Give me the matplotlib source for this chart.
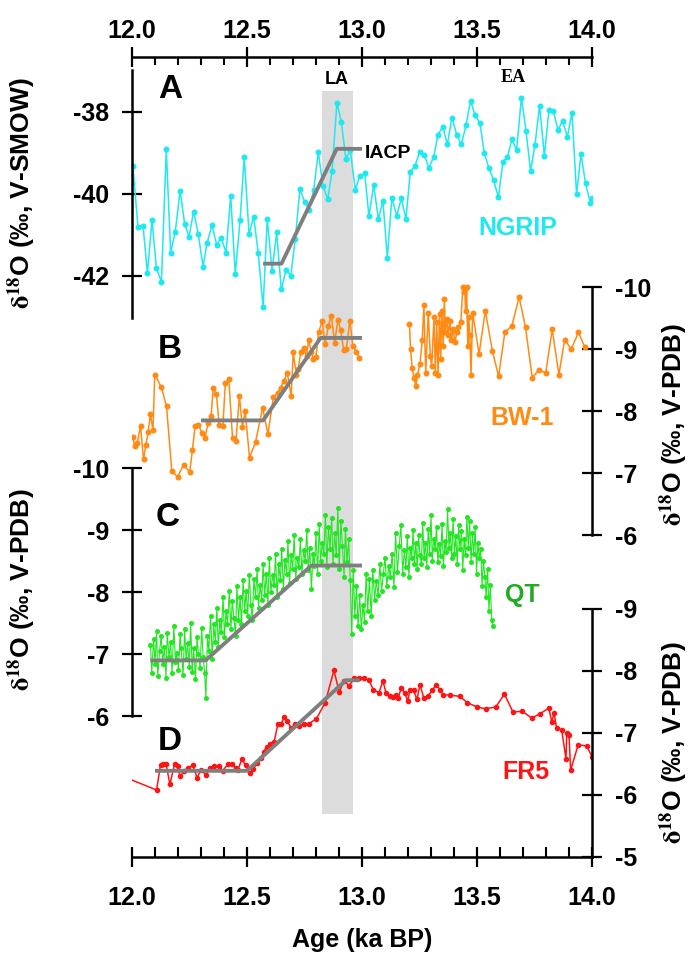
import numpy as np
import matplotlib
matplotlib.use('Agg')
import matplotlib.pyplot as plt
from matplotlib.ticker import MultipleLocator

plt.rcParams['font.family'] = ['Liberation Sans', 'DejaVu Sans']
plt.rcParams['font.weight'] = 'bold'
plt.rcParams['mathtext.fontset'] = 'stix'
plt.rcParams['axes.unicode_minus'] = False

# ---- data ----
# A: NGRIP ice core
ngrip_age = [12.000, 12.004, 12.026, 12.048, 12.067, 12.087, 12.106, 12.128, 12.149, 12.168,
             12.188, 12.209, 12.229, 12.248, 12.268, 12.288, 12.309, 12.326, 12.348, 12.368,
             12.388, 12.409, 12.429, 12.449, 12.470, 12.488, 12.509, 12.529, 12.549, 12.570,
             12.588, 12.609, 12.629, 12.649, 12.670, 12.690, 12.710, 12.730, 12.751, 12.770,
             12.790, 12.810, 12.830, 12.851, 12.870, 12.891, 12.910, 12.930, 12.949, 12.971,
             12.990, 13.012, 13.030, 13.051, 13.071, 13.091, 13.110, 13.130, 13.151, 13.171,
             13.191, 13.210, 13.230, 13.251, 13.271, 13.291, 13.312, 13.330, 13.351, 13.371,
             13.391, 13.412, 13.432, 13.452, 13.472, 13.491, 13.513, 13.532, 13.552, 13.572,
             13.593, 13.613, 13.632, 13.652, 13.672, 13.693, 13.713, 13.733, 13.752, 13.772,
             13.793, 13.813, 13.832, 13.852, 13.872, 13.893, 13.913, 13.933, 13.952, 13.972,
             13.993, 14.000]
ngrip_d18o = [-39.74, -39.33, -40.80, -40.77, -41.93, -40.63, -41.81, -42.14, -38.91, -41.43,
              -40.93, -39.92, -40.73, -41.04, -40.43, -40.98, -41.77, -41.20, -40.76, -41.24,
              -41.07, -41.43, -40.04, -41.95, -40.63, -39.10, -40.98, -40.55, -41.45, -42.76,
              -40.61, -41.87, -40.94, -42.33, -41.85, -41.99, -41.10, -39.88, -40.19, -40.39,
              -39.90, -38.98, -39.80, -40.13, -39.44, -37.77, -38.24, -39.14, -38.94, -39.90,
              -39.56, -39.50, -40.54, -39.78, -40.61, -40.17, -41.55, -40.09, -40.53, -40.11,
              -40.61, -39.46, -39.32, -38.97, -39.05, -39.37, -39.09, -38.56, -38.36, -38.79,
              -38.14, -38.56, -38.79, -38.33, -37.73, -38.07, -38.28, -39.01, -39.37, -39.66,
              -40.08, -39.21, -39.10, -38.67, -38.94, -37.65, -38.46, -39.44, -38.80, -37.85,
              -39.07, -37.95, -37.98, -38.44, -38.22, -38.60, -38.02, -40.01, -39.03, -39.74,
              -40.23, -40.09]
iacp_age_a = [12.57, 12.65, 12.89, 13.00]
iacp_d18o_a = [-41.7, -41.7, -38.9, -38.9]

# B: BW-1 speleothem
bw1_age = [12.003, 12.011, 12.023, 12.037, 12.050, 12.060, 12.070, 12.080, 12.091, 12.099,
           12.127, 12.150, 12.173, 12.198, 12.224, 12.251, 12.263, 12.274, 12.289, 12.305,
           12.317, 12.331, 12.344, 12.353, 12.367, 12.379, 12.395, 12.406, 12.421, 12.437,
           12.452, 12.467, 12.480, 12.492, 12.511, 12.537, 12.568, 12.591, 12.615, 12.633,
           12.646, 12.661, 12.675, 12.692, 12.701, 12.714, 12.723, 12.734, 12.746, 12.759,
           12.768, 12.780, 12.789, 12.800, 12.811, 12.827, 12.839, 12.854, 12.867, 12.881,
           12.895, 12.907, 12.920, 12.932, 12.947, 12.960, 12.975, 12.989,
           13.206, 13.211, 13.218, 13.226, 13.234, 13.241, 13.252, 13.262, 13.269, 13.277,
           13.288, 13.297, 13.303, 13.313, 13.319, 13.325, 13.331, 13.337, 13.342, 13.347,
           13.353, 13.358, 13.362, 13.368, 13.375, 13.381, 13.389, 13.396, 13.404, 13.412,
           13.419, 13.430, 13.438, 13.443, 13.447, 13.450, 13.455, 13.460, 13.464, 13.469,
           13.474, 13.481, 13.509, 13.536, 13.567, 13.594, 13.621, 13.652, 13.683, 13.711,
           13.740, 13.768, 13.799, 13.827, 13.856, 13.881, 13.910, 13.941, 13.969]
bw1_d18o = [-7.59, -7.44, -7.49, -7.76, -7.22, -7.45, -7.66, -7.95, -7.69, -8.59,
            -8.39, -8.08, -7.03, -6.94, -7.13, -7.02, -7.38, -7.76, -7.77, -7.65,
            -7.57, -7.81, -7.92, -8.37, -8.28, -7.78, -7.76, -8.46, -8.51, -7.57,
            -7.52, -8.24, -7.74, -8.00, -7.25, -7.50, -8.05, -7.63, -8.23, -8.29,
            -8.38, -8.49, -8.62, -8.24, -8.95, -8.59, -8.68, -8.96, -9.01, -8.89,
            -9.15, -8.95, -8.84, -8.88, -9.27, -9.45, -9.08, -9.38, -9.54, -9.10,
            -9.47, -9.31, -8.99, -9.00, -9.46, -9.05, -8.96, -8.86,
            -9.41, -9.00, -8.70, -8.54, -8.41, -8.58, -8.76, -9.14, -9.71, -8.62,
            -9.59, -8.89, -8.73, -9.51, -8.62, -9.43, -8.58, -9.57, -8.84, -9.61,
            -9.05, -9.81, -9.27, -9.49, -9.22, -9.46, -9.14, -9.32, -9.11, -9.27,
            -9.35, -9.43, -10.00, -9.92, -9.97, -9.62, -10.00, -9.05, -9.51, -9.22,
            -8.59, -9.59, -8.92, -9.62, -8.97, -8.56, -9.27, -9.38, -9.84, -9.35,
            -8.54, -8.66, -8.62, -9.32, -8.59, -9.15, -9.00, -9.27, -9.03]
trend_age_b = [12.30, 12.57, 12.82, 13.00]
trend_d18o_b = [-7.85, -7.85, -9.18, -9.18]

# C: QT speleothem
qt_age = [12.080, 12.086, 12.094, 12.100, 12.107, 12.112, 12.120, 12.127, 12.133, 12.141,
          12.148, 12.153, 12.161, 12.168, 12.174, 12.182, 12.189, 12.195, 12.202, 12.209,
          12.214, 12.222, 12.229, 12.235, 12.242, 12.249, 12.255, 12.262, 12.268, 12.276,
          12.283, 12.289, 12.296, 12.303, 12.309, 12.316, 12.321, 12.328, 12.334, 12.342,
          12.349, 12.355, 12.362, 12.369, 12.375, 12.382, 12.388, 12.396, 12.402, 12.409,
          12.415, 12.423, 12.430, 12.436, 12.443, 12.450, 12.456, 12.463, 12.470, 12.476,
          12.483, 12.490, 12.496, 12.503, 12.510, 12.517, 12.523, 12.530, 12.537, 12.544,
          12.550, 12.557, 12.564, 12.570, 12.577, 12.584, 12.591, 12.597, 12.604, 12.611,
          12.618, 12.624, 12.631, 12.638, 12.645, 12.651, 12.658, 12.665, 12.672, 12.678,
          12.685, 12.692, 12.699, 12.705, 12.712, 12.719, 12.726, 12.732, 12.739, 12.746,
          12.753, 12.760, 12.766, 12.773, 12.780, 12.787, 12.793, 12.800, 12.807, 12.814,
          12.820, 12.827, 12.834, 12.841, 12.847, 12.854, 12.861, 12.868, 12.874, 12.881,
          12.888, 12.895, 12.901, 12.908, 12.915, 12.922, 12.928, 12.935, 12.942, 12.949,
          12.955, 12.962, 12.969, 12.976, 12.983, 12.990, 12.997, 13.004, 13.011, 13.018,
          13.025, 13.032, 13.040, 13.047, 13.055, 13.062, 13.070, 13.078, 13.085, 13.093,
          13.100, 13.108, 13.116, 13.123, 13.131, 13.139, 13.146, 13.154, 13.162, 13.169,
          13.177, 13.184, 13.191, 13.197, 13.204, 13.210, 13.216, 13.222, 13.228, 13.234,
          13.240, 13.246, 13.252, 13.258, 13.264, 13.270, 13.276, 13.282, 13.288, 13.294,
          13.300, 13.306, 13.312, 13.318, 13.324, 13.330, 13.336, 13.342, 13.348, 13.354,
          13.360, 13.366, 13.372, 13.378, 13.384, 13.390, 13.396, 13.402, 13.408, 13.414,
          13.420, 13.426, 13.432, 13.438, 13.444, 13.450, 13.456, 13.462, 13.468, 13.474,
          13.480, 13.486, 13.492, 13.498, 13.504, 13.510, 13.516, 13.522, 13.528, 13.534,
          13.540, 13.546, 13.552, 13.558, 13.564, 13.570]
qt_d18o = [-7.15, -6.70, -7.25, -6.85, -7.38, -6.65, -7.05, -7.30, -6.85, -7.12,
           -6.62, -7.35, -6.95, -7.20, -6.70, -7.45, -6.88, -7.02, -6.75, -7.32,
           -7.10, -6.66, -7.40, -6.92, -7.18, -6.80, -7.50, -6.72, -7.10, -6.60,
           -7.28, -7.00, -6.78, -7.42, -6.96, -6.70, -6.30, -7.30, -7.05, -7.62,
           -6.92, -7.48, -7.20, -7.75, -7.12, -7.55, -7.36, -7.92, -7.28, -7.70,
           -7.48, -8.02, -7.40, -7.86, -7.58, -7.30, -8.10, -7.55, -7.92, -7.48,
           -8.20, -7.70, -8.02, -7.62, -8.28, -7.80, -7.55, -8.22, -7.92, -8.38,
           -7.75, -8.12, -7.88, -8.45, -7.96, -8.30, -7.80, -8.55, -8.00, -8.28,
           -8.12, -8.62, -7.92, -8.45, -8.20, -8.70, -8.05, -8.52, -8.30, -8.82,
           -8.15, -8.60, -8.38, -8.92, -8.22, -8.55, -8.40, -8.85, -8.30, -8.68,
           -8.50, -9.00, -8.35, -8.72, -8.05, -8.62, -8.42, -8.95, -8.30, -9.10,
           -8.50, -8.80, -8.62, -9.25, -8.40, -9.05, -8.70, -9.20, -8.45, -8.95,
           -8.60, -9.35, -8.38, -9.15, -8.75, -8.25, -9.02, -8.48, -8.85, -8.20,
           -7.32, -8.35, -7.62, -8.10, -7.45, -7.95, -7.40, -7.80, -7.52, -8.30,
           -7.70, -8.22, -7.62, -8.35, -7.88, -8.18, -7.95, -8.45, -8.02, -8.30,
           -8.55, -8.10, -8.42, -8.25, -8.62, -8.08, -8.95, -8.32, -8.75, -9.08,
           -8.30, -8.68, -8.40, -8.90, -8.25, -8.72, -8.55, -9.00, -8.45, -8.80,
           -8.38, -8.92, -8.60, -8.45, -9.12, -8.55, -8.80, -8.40, -9.02, -8.62,
           -9.24, -8.50, -8.86, -8.70, -9.05, -8.48, -8.78, -8.58, -9.10, -8.42,
           -8.82, -8.65, -9.34, -8.72, -8.95, -8.55, -9.18, -8.62, -8.90, -8.45,
           -9.08, -8.70, -8.98, -8.35, -8.85, -8.60, -9.22, -8.72, -9.15, -8.48,
           -8.95, -8.62, -9.05, -8.30, -8.80, -8.55, -8.70, -8.10, -8.50, -8.25,
           -7.92, -8.38, -7.70, -8.12, -7.55, -7.45]
trend_age_c = [12.08, 12.32, 12.78, 13.00]
trend_d18o_c = [-6.90, -6.90, -8.43, -8.43]

# D: FR5 speleothem
fr5_age = [12.000, 12.107, 12.124, 12.135, 12.148, 12.165, 12.185, 12.198, 12.209, 12.226,
           12.242, 12.264, 12.283, 12.301, 12.321, 12.338, 12.358, 12.379, 12.395, 12.417,
           12.433, 12.450, 12.461, 12.478, 12.494, 12.511, 12.527, 12.544, 12.560, 12.573,
           12.585, 12.601, 12.618, 12.634, 12.647, 12.662, 12.675, 12.692, 12.708, 12.725,
           12.746, 12.769, 12.802, 12.840, 12.878, 12.901, 12.922, 12.944, 12.967, 12.988,
           13.010, 13.030, 13.049, 13.074, 13.091, 13.104, 13.120, 13.133, 13.148, 13.157,
           13.170, 13.186, 13.199, 13.208, 13.224, 13.239, 13.252, 13.269, 13.285, 13.306,
           13.323, 13.339, 13.351, 13.384, 13.425, 13.458, 13.499, 13.537, 13.582, 13.619,
           13.656, 13.697, 13.738, 13.774, 13.812, 13.825, 13.835, 13.846, 13.868, 13.887,
           13.890, 13.900, 13.907, 13.940, 13.977, 14.000]
fr5_d18o = [-6.24, -6.08, -6.49, -6.50, -6.50, -6.17, -6.50, -6.46, -6.30, -6.38,
            -6.43, -6.48, -6.28, -6.41, -6.32, -6.43, -6.46, -6.47, -6.39, -6.50,
            -6.50, -6.44, -6.41, -6.58, -6.48, -6.35, -6.42, -6.51, -6.59, -6.70,
            -6.78, -6.82, -6.86, -7.14, -7.14, -7.25, -7.19, -7.08, -7.14, -7.11,
            -7.14, -7.15, -7.23, -7.49, -8.01, -7.66, -7.84, -7.76, -7.89, -7.88,
            -7.88, -7.85, -7.70, -7.65, -7.84, -7.65, -7.59, -7.58, -7.62, -7.56,
            -7.72, -7.65, -7.51, -7.70, -7.69, -7.54, -7.78, -7.56, -7.59, -7.69,
            -7.78, -7.70, -7.62, -7.61, -7.59, -7.49, -7.42, -7.39, -7.42, -7.63,
            -7.34, -7.35, -7.24, -7.31, -7.40, -7.18, -7.32, -7.08, -7.05, -6.58,
            -7.00, -6.97, -6.40, -6.81, -6.79, -6.62]
trend_age_d = [12.10, 12.50, 12.93, 12.99]
trend_d18o_d = [-6.39, -6.39, -7.85, -7.85]

la_start, la_end = 12.826, 12.961

# ---- figure ----
W, H = 693, 956
fig = plt.figure(figsize=(W / 100, H / 100), dpi=100)


def fx(x):
    return x / W


def fy(y):
    return 1 - y / H


rect = [fx(132), fy(857), (592 - 132) / W, 800 / H]
GREY = '#7f7f7f'
cyan = '#1ee8f0'
orange = '#ff8a14'
green = '#22e622'
red = '#ff1414'


def age_axis(side, pad, minor_len):
    ax = fig.add_axes(rect)
    ax.set_xlim(12, 14)
    ax.set_ylim(0, 1)
    ax.patch.set_visible(False)
    for s in ['left', 'right', 'top', 'bottom']:
        ax.spines[s].set_visible(s == side)
    ax.spines[side].set_linewidth(1.8)
    ax.set_yticks([])
    ax.xaxis.set_ticks_position(side)
    ax.xaxis.set_major_locator(MultipleLocator(0.5))
    ax.xaxis.set_minor_locator(MultipleLocator(0.1))
    ax.xaxis.set_major_formatter(plt.FormatStrFormatter('%.1f'))
    ax.tick_params(axis='x', which='major', direction='inout', length=14, width=1.6,
                   labelsize=18, pad=pad)
    ax.tick_params(axis='x', which='minor', direction='in', length=minor_len, width=1.5)
    return ax


base = age_axis('bottom', 14, 7)
top_axis = age_axis('top', 3, 6)
top_axis.xaxis.set_label_position('top')
base.axvspan(la_start, la_end, ymin=0.054, ymax=0.957, color='#dcdcdc', lw=0, zorder=0)
base.set_xlabel('Age (ka BP)', fontsize=18, fontweight='bold', labelpad=13)


def panel(ylim, side, bounds, ticks):
    ax = fig.add_axes(rect)
    ax.set_xlim(12, 14)
    ax.set_ylim(*ylim)
    ax.patch.set_visible(False)
    for s in ['left', 'right', 'top', 'bottom']:
        ax.spines[s].set_visible(s == side)
    ax.spines[side].set_bounds(*bounds)
    ax.spines[side].set_linewidth(1.8)
    ax.yaxis.set_ticks_position(side)
    ax.set_yticks(ticks)
    ax.set_yticklabels([str(t) for t in ticks])
    ax.set_xticks([])
    ax.tick_params(axis='y', direction='inout', length=15, width=1.6, labelsize=18, pad=9)
    return ax


axD = panel((-5, -17.9), 'right', (-9, -5), [-9, -8, -7, -6, -5])
axC = panel((-3.73, -16.63), 'left', (-10, -6), [-10, -9, -8, -7, -6])
axB = panel((-0.81, -13.71), 'right', (-10, -6), [-10, -9, -8, -7, -6])
axA = panel((-56.17, -36.66), 'left', (-43.02, -36.98), [-38, -40, -42])

# A
axA.plot(ngrip_age, ngrip_d18o, '-o', color=cyan, lw=1.1, ms=3.3)
axA.plot(iacp_age_a, iacp_d18o_a, color=GREY, lw=2.8, solid_capstyle='butt')

# B (gap in the record)
bw_age = np.array(bw1_age)
bw_val = np.array(bw1_d18o)
gap = np.where(np.diff(bw_age) > 0.1)[0][0] + 1
axB.plot(bw_age[:gap], bw_val[:gap], '-o', color=orange, lw=1.1, ms=3.3)
axB.plot(bw_age[gap:], bw_val[gap:], '-o', color=orange, lw=1.1, ms=3.3)
axB.plot(trend_age_b, trend_d18o_b, color=GREY, lw=2.8, solid_capstyle='butt')

# C
axC.plot(qt_age, qt_d18o, '-o', color=green, lw=0.8, ms=2.6)
axC.plot(trend_age_c, trend_d18o_c, color=GREY, lw=2.8, solid_capstyle='butt')

# D
axD.plot(fr5_age, fr5_d18o, '-o', color=red, lw=1.1, ms=3.0,
         markevery=list(range(1, len(fr5_age))))
axD.plot(trend_age_d, trend_d18o_d, color=GREY, lw=2.8, solid_capstyle='butt')

# texts
for letter, (x, y) in zip('ABCD', [(170, 90), (170, 349), (168, 518), (170, 742)]):
    fig.text(fx(x), fy(y), letter, fontsize=24, fontweight='bold', ha='center', va='center')

fig.text(fx(518), fy(228), 'NGRIP', color=cyan, fontsize=18, fontweight='bold', ha='center', va='center')
fig.text(fx(522), fy(418), 'BW-1', color=orange, fontsize=18, fontweight='bold', ha='center', va='center')
fig.text(fx(522), fy(595), 'QT', color='#22aa22', fontsize=18, fontweight='bold', ha='center', va='center')
fig.text(fx(526), fy(772), 'FR5', color=red, fontsize=18, fontweight='bold', ha='center', va='center')

fig.text(fx(365), fy(153), 'IACP', fontsize=14, fontweight='bold', ha='left', va='center')
fig.text(fx(337), fy(80), 'LA', fontsize=13, fontweight='bold', ha='center', va='center')
fig.text(fx(513), fy(78), 'EA', fontsize=13, fontweight='bold', ha='center', va='center',
         family='Liberation Serif')

lab_smow = r'$\mathrm{\delta}^{18}$O (‰, V-SMOW)'
lab_pdb = r'$\mathrm{\delta}^{18}$O (‰, V-PDB)'
for x, y, lab in [(22, 193, lab_smow), (22, 590, lab_pdb), (674, 425, lab_pdb), (674, 743, lab_pdb)]:
    fig.text(fx(x), fy(y), lab, fontsize=19, fontweight='bold', rotation=90, ha='center', va='center')

fig.savefig('out.png', dpi=100)
